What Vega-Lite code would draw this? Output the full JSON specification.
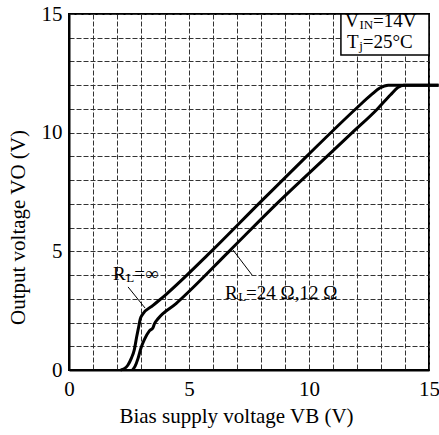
{
  "$schema": "https://vega.github.io/schema/vega-lite/v6.json",
  "width": 360,
  "height": 356,
  "autosize": {"type": "none"},
  "padding": {"left": 69, "top": 14, "right": 10, "bottom": 65},
  "background": "white",
  "config": {
    "view": {"stroke": "black", "strokeWidth": 2},
    "font": "Liberation Serif",
    "axis": {
      "grid": true,
      "gridDash": [5, 2],
      "gridColor": "#333333",
      "gridWidth": 1,
      "ticks": false,
      "domainColor": "black",
      "domainWidth": 2,
      "labelFont": "Liberation Serif",
      "labelFontSize": 21,
      "labelColor": "black",
      "labelFlush": false,
      "labelOverlap": false,
      "labelBound": false,
      "titleFont": "Liberation Serif",
      "titleFontSize": 21,
      "titleFontWeight": "normal",
      "titleColor": "black"
    }
  },
  "datasets": {
    "curves": [
      {"s": "inf", "x": 2.15, "y": 0},
      {"s": "inf", "x": 2.3, "y": 0.05},
      {"s": "inf", "x": 2.45, "y": 0.2},
      {"s": "inf", "x": 2.6, "y": 0.5},
      {"s": "inf", "x": 2.72, "y": 0.85},
      {"s": "inf", "x": 2.82, "y": 1.4},
      {"s": "inf", "x": 2.9, "y": 1.8},
      {"s": "inf", "x": 2.97, "y": 2.15},
      {"s": "inf", "x": 3.07, "y": 2.35},
      {"s": "inf", "x": 3.5, "y": 2.72},
      {"s": "inf", "x": 4.04, "y": 3.18},
      {"s": "inf", "x": 5.93, "y": 5.0},
      {"s": "inf", "x": 7.9, "y": 7.0},
      {"s": "inf", "x": 9.9, "y": 9.0},
      {"s": "inf", "x": 12.0, "y": 11.05},
      {"s": "inf", "x": 12.6, "y": 11.6},
      {"s": "inf", "x": 12.95, "y": 11.88},
      {"s": "inf", "x": 13.3, "y": 12.0},
      {"s": "inf", "x": 15.4, "y": 12.0},
      {"s": "r24", "x": 2.65, "y": 0},
      {"s": "r24", "x": 2.75, "y": 0.15},
      {"s": "r24", "x": 2.88, "y": 0.5},
      {"s": "r24", "x": 3.0, "y": 0.93},
      {"s": "r24", "x": 3.15, "y": 1.3},
      {"s": "r24", "x": 3.35, "y": 1.65},
      {"s": "r24", "x": 3.5, "y": 1.78},
      {"s": "r24", "x": 3.56, "y": 1.95},
      {"s": "r24", "x": 3.7, "y": 2.15},
      {"s": "r24", "x": 4.46, "y": 2.8},
      {"s": "r24", "x": 6.67, "y": 5.0},
      {"s": "r24", "x": 8.65, "y": 7.0},
      {"s": "r24", "x": 10.75, "y": 9.0},
      {"s": "r24", "x": 11.8, "y": 10.0},
      {"s": "r24", "x": 12.85, "y": 11.0},
      {"s": "r24", "x": 13.4, "y": 11.6},
      {"s": "r24", "x": 13.7, "y": 11.9},
      {"s": "r24", "x": 13.95, "y": 12.0},
      {"s": "r24", "x": 15.4, "y": 12.0}
    ],
    "leaders": [
      {"x": 2.46, "y": 3.5, "x2": 3.17, "y2": 2.61},
      {"x": 6.83, "y": 5.06, "x2": 7.63, "y2": 4.0}
    ],
    "box": [
      {"x": 11.33, "y": 13.27, "x2": 15, "y2": 15}
    ],
    "bigText": [
      {"x": 11.5, "y": 14.46, "t": "V"},
      {"x": 12.67, "y": 14.46, "t": "=14V"},
      {"x": 11.58, "y": 13.55, "t": "T"},
      {"x": 12.24, "y": 13.55, "t": "=25°C"},
      {"x": 1.83, "y": 3.79, "t": "R"},
      {"x": 2.72, "y": 3.79, "t": "=∞"},
      {"x": 6.5, "y": 2.99, "t": "R"},
      {"x": 7.38, "y": 2.99, "t": "=24 Ω,12 Ω"}
    ],
    "smallText": [
      {"x": 12.1, "y": 14.38, "t": "IN"},
      {"x": 12.09, "y": 13.47, "t": "j"},
      {"x": 2.39, "y": 3.71, "t": "L"},
      {"x": 7.05, "y": 2.91, "t": "L"}
    ]
  },
  "encoding": {
    "x": {
      "field": "x",
      "type": "quantitative",
      "scale": {"domain": [0, 15], "nice": false, "zero": false},
      "axis": {
        "values": [0, 1, 2, 3, 4, 5, 6, 7, 8, 9, 10, 11, 12, 13, 14, 15],
        "labelExpr": "datum.value % 5 === 0 ? datum.label : ''",
        "labelPadding": 8,
        "title": "Bias supply voltage VB (V)",
        "titleX": 167,
        "titleY": 46,
        "titleBaseline": "middle",
        "titleAlign": "center"
      }
    },
    "y": {
      "field": "y",
      "type": "quantitative",
      "scale": {"domain": [0, 15], "nice": false, "zero": false},
      "axis": {
        "values": [0, 1, 2, 3, 4, 5, 6, 7, 8, 9, 10, 11, 12, 13, 14, 15],
        "labelExpr": "datum.value % 5 === 0 ? datum.label : ''",
        "labelPadding": 7,
        "title": "Output voltage VO (V)",
        "titleX": -51,
        "titleY": 213,
        "titleBaseline": "middle",
        "titleAlign": "center"
      }
    }
  },
  "layer": [
    {
      "data": {"name": "box"},
      "mark": {"type": "rect", "fill": "white", "stroke": "black", "strokeWidth": 1.5},
      "encoding": {"x2": {"field": "x2"}, "y2": {"field": "y2"}}
    },
    {
      "data": {"name": "curves"},
      "mark": {"type": "line", "color": "black", "strokeWidth": 3, "interpolate": "monotone", "clip": false},
      "encoding": {"detail": {"field": "s"}}
    },
    {
      "data": {"name": "leaders"},
      "mark": {"type": "rule", "color": "black", "strokeWidth": 1},
      "encoding": {"x2": {"field": "x2"}, "y2": {"field": "y2"}}
    },
    {
      "data": {"name": "bigText"},
      "mark": {"type": "text", "align": "left", "baseline": "alphabetic", "fontSize": 19, "color": "black", "font": "Liberation Serif"},
      "encoding": {"text": {"field": "t"}}
    },
    {
      "data": {"name": "smallText"},
      "mark": {"type": "text", "align": "left", "baseline": "alphabetic", "fontSize": 13, "color": "black", "font": "Liberation Serif"},
      "encoding": {"text": {"field": "t"}}
    }
  ]
}
